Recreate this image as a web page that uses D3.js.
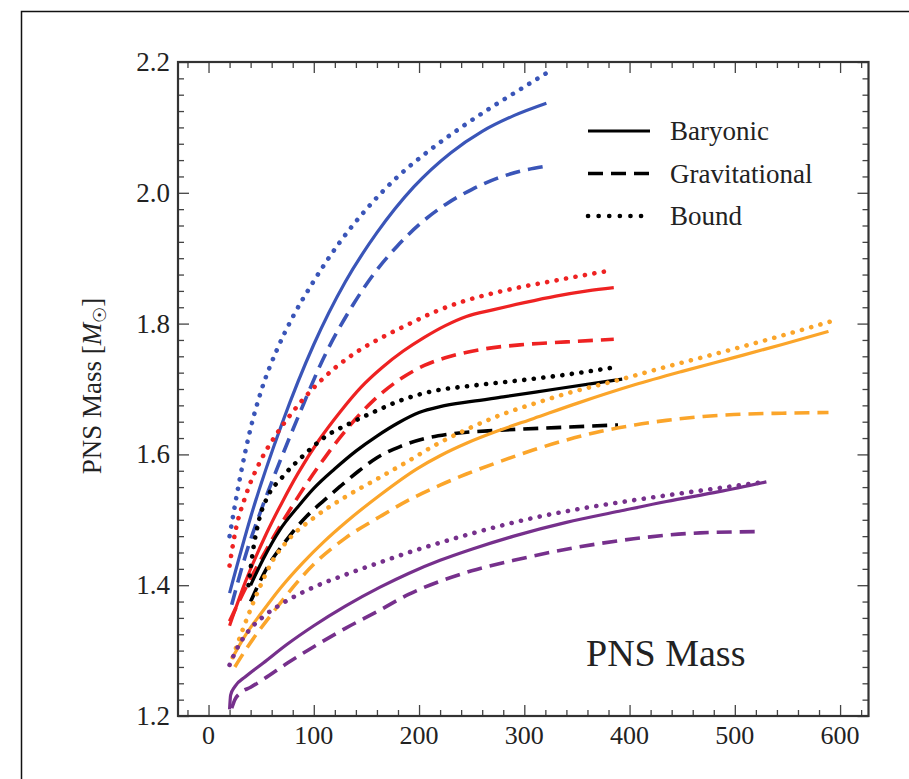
<!DOCTYPE html>
<html>
<head>
<meta charset="utf-8">
<script src="https://cdn.jsdelivr.net/npm/d3@7"></script>
<style>
  body { margin: 0; background: #fff; }
  svg text { font-family: "Liberation Serif", "DejaVu Serif", serif; fill: #222; }
</style>
</head>
<body>
<div id="chart-area"></div>
<script>
// values: [x, mass]
var blueSolid = [[20,1.388],[40,1.504],[70,1.648],[100,1.768],[130,1.864],[160,1.939],[195,2.009],[230,2.061],[260,2.094],[290,2.118],[321,2.137]];
var blueDashed = [[22,1.37],[36,1.45],[50,1.515],[70,1.598],[90,1.676],[106,1.736],[137,1.828],[158,1.878],[179,1.918],[202,1.954],[226,1.983],[250,2.005],[274,2.022],[296,2.033],[318,2.04]];
var blueDotted = [[20,1.475],[30,1.565],[40,1.64],[50,1.697],[65,1.76],[80,1.81],[100,1.865],[125,1.925],[150,1.975],[180,2.025],[210,2.065],[240,2.10],[270,2.132],[300,2.162],[321,2.183]];

var redSolid = [[20,1.338],[35,1.405],[55,1.479],[70,1.527],[85,1.571],[105,1.622],[125,1.665],[145,1.703],[165,1.733],[185,1.758],[205,1.779],[225,1.797],[245,1.811],[270,1.821],[300,1.832],[330,1.842],[360,1.85],[385,1.855]];
var redDashed = [[20,1.345],[36,1.398],[58,1.463],[87,1.54],[110,1.594],[130,1.636],[157,1.683],[182,1.715],[205,1.736],[230,1.75],[261,1.761],[300,1.768],[340,1.772],[385,1.776]];
var redDotted = [[20,1.43],[25,1.478],[36,1.54],[50,1.592],[65,1.632],[80,1.665],[100,1.702],[120,1.732],[144,1.76],[165,1.779],[190,1.799],[215,1.818],[240,1.833],[277,1.849],[330,1.866],[381,1.881]];

var blackSolid = [[40,1.40],[52,1.44],[68,1.485],[85,1.52],[100,1.548],[120,1.578],[140,1.605],[160,1.628],[180,1.648],[200,1.664],[220,1.673],[250,1.681],[280,1.688],[330,1.70],[393,1.715]];
var blackDashed = [[40,1.375],[55,1.425],[74,1.469],[93,1.505],[110,1.53],[125,1.551],[143,1.575],[160,1.595],[182,1.612],[205,1.624],[229,1.631],[277,1.637],[330,1.641],[389,1.645]];
var blackDotted = [[38,1.40],[42,1.45],[48,1.50],[56,1.535],[70,1.565],[90,1.598],[110,1.626],[135,1.648],[160,1.667],[185,1.684],[214,1.697],[250,1.705],[300,1.714],[340,1.722],[385,1.733]];

var orangeSolid = [[23,1.29],[36,1.326],[50,1.357],[68,1.395],[90,1.435],[110,1.467],[131,1.497],[163,1.538],[198,1.578],[220,1.598],[245,1.617],[275,1.636],[309,1.655],[350,1.678],[404,1.706],[450,1.727],[499,1.748],[545,1.768],[589,1.788]];
var orangeDashed = [[25,1.275],[36,1.303],[62,1.36],[100,1.432],[130,1.472],[163,1.505],[190,1.53],[220,1.553],[245,1.57],[275,1.588],[309,1.607],[340,1.622],[372,1.635],[405,1.645],[435,1.652],[470,1.658],[499,1.661],[545,1.663],[589,1.664]];
var orangeDotted = [[23,1.29],[36,1.347],[49,1.398],[60,1.435],[75,1.468],[100,1.503],[130,1.535],[163,1.565],[190,1.59],[214,1.613],[245,1.638],[277,1.66],[310,1.678],[340,1.693],[390,1.714],[435,1.734],[480,1.753],[530,1.775],[597,1.806]];

var purpleSolid = [[20,1.21],[21,1.232],[25,1.245],[35,1.26],[52,1.281],[75,1.31],[100,1.338],[130,1.368],[163,1.397],[190,1.418],[220,1.438],[250,1.455],[290,1.475],[340,1.496],[390,1.513],[435,1.528],[485,1.543],[530,1.558]];
var purpleDashed = [[22,1.212],[25,1.225],[30,1.235],[40,1.244],[52,1.256],[75,1.281],[100,1.306],[130,1.334],[163,1.362],[190,1.386],[220,1.406],[250,1.422],[290,1.438],[340,1.455],[404,1.471],[467,1.48],[526,1.482]];
var purpleDotted = [[20,1.278],[27,1.303],[38,1.33],[52,1.352],[70,1.372],[100,1.397],[130,1.416],[163,1.435],[190,1.45],[220,1.465],[250,1.479],[309,1.503],[350,1.516],[404,1.53],[460,1.543],[529,1.558]];

var xTicks = [0, 100, 200, 300, 400, 500, 600];
var yTicks = [1.2, 1.4, 1.6, 1.8, 2.0, 2.2];
var legendNames = ["Baryonic", "Gravitational", "Bound"];

var series = [
    {data: blueSolid, color: "#3a55b8", kind: "solid"},
    {data: blueDashed, color: "#3a55b8", kind: "dashed"},
    {data: blueDotted, color: "#3a55b8", kind: "dotted"},
    {data: redSolid, color: "#ee2222", kind: "solid"},
    {data: redDashed, color: "#ee2222", kind: "dashed"},
    {data: redDotted, color: "#ee2222", kind: "dotted"},
    {data: blackSolid, color: "#000", kind: "solid"},
    {data: blackDashed, color: "#000", kind: "dashed"},
    {data: blackDotted, color: "#000", kind: "dotted"},
    {data: orangeSolid, color: "#fba52a", kind: "solid"},
    {data: orangeDashed, color: "#fba52a", kind: "dashed"},
    {data: orangeDotted, color: "#fba52a", kind: "dotted"},
    {data: purpleSolid, color: "#76308c", kind: "solid"},
    {data: purpleDashed, color: "#76308c", kind: "dashed"},
    {data: purpleDotted, color: "#76308c", kind: "dotted"}
];

var styles = {
    solid: {w: 3.2, dash: null},
    dashed: {w: 3.6, dash: "15 8"},
    dotted: {w: 4.6, dash: "0.1 9.5"}
};

var W = 909, H = 779;
// plot box in pixels (not "top": that name is taken by window.top)
var pl = 178, pr = 868.5, pt = 62, pb = 716;

var svg = d3.select("#chart-area").append("svg")
    .attr("width", W)
    .attr("height", H);

// outer frame of the figure
svg.append("path")
    .attr("d", "M21.5," + H + "V11.5H" + W)
    .attr("fill", "none")
    .attr("stroke", "#111")
    .attr("stroke-width", 1.5);

var x = d3.scaleLinear().domain([-29, 627]).range([pl, pr]);
var y = d3.scaleLinear().domain([1.2, 2.2]).range([pb, pt]);

var g = svg.append("g");

var line = d3.line()
    .x((d) => x(d[0]))
    .y((d) => y(d[1]))
    .curve(d3.curveMonotoneX);

g.selectAll("path.curve")
    .data(series)
    .enter()
    .append("path")
        .attr("class", "curve")
        .attr("d", (d) => line(d.data))
        .attr("fill", "none")
        .attr("stroke", (d) => d.color)
        .attr("stroke-width", (d) => styles[d.kind].w)
        .attr("stroke-dasharray", (d) => styles[d.kind].dash)
        .attr("stroke-linecap", (d) => d.kind == "dotted" ? "round" : "butt");

// ticks on all four sides, pointing inward
var xMinor = d3.range(-20, 621, 20);
var yMinor = d3.range(1.2, 2.2001, 0.025);
function isMajorX(v) { return Math.abs(v % 100) < 1e-6; }
function isMajorY(v) { return Math.abs(Math.round(v * 5) - v * 5) < 1e-6; }

var tickColor = "#444";
g.append("g").attr("transform", "translate(0," + pb + ")")
    .call(d3.axisTop(x).tickValues(xMinor).tickSizeOuter(0).tickFormat(""))
    .call((a) => a.selectAll(".tick line").attr("y2", (d) => isMajorX(d) ? -11 : -6));
g.append("g").attr("transform", "translate(0," + pt + ")")
    .call(d3.axisBottom(x).tickValues(xMinor).tickSizeOuter(0).tickFormat(""))
    .call((a) => a.selectAll(".tick line").attr("y2", (d) => isMajorX(d) ? 11 : 6));
g.append("g").attr("transform", "translate(" + pl + ",0)")
    .call(d3.axisRight(y).tickValues(yMinor).tickSizeOuter(0).tickFormat(""))
    .call((a) => a.selectAll(".tick line").attr("x2", (d) => isMajorY(d) ? 11 : 6));
g.append("g").attr("transform", "translate(" + pr + ",0)")
    .call(d3.axisLeft(y).tickValues(yMinor).tickSizeOuter(0).tickFormat(""))
    .call((a) => a.selectAll(".tick line").attr("x2", (d) => isMajorY(d) ? -11 : -6));
g.selectAll(".domain").remove();
g.selectAll(".tick line").attr("stroke", tickColor).attr("stroke-width", 1.3);

g.append("rect")
    .attr("x", pl).attr("y", pt)
    .attr("width", pr - pl).attr("height", pb - pt)
    .attr("fill", "none")
    .attr("stroke", "#333")
    .attr("stroke-width", 2.2);

// tick labels
svg.selectAll("text.xl")
    .data(xTicks)
    .enter()
    .append("text")
        .attr("class", "xl")
        .attr("x", (d) => x(d))
        .attr("y", 744)
        .attr("text-anchor", "middle")
        .attr("font-size", 26)
        .text((d) => d);

svg.selectAll("text.yl")
    .data(yTicks)
    .enter()
    .append("text")
        .attr("class", "yl")
        .attr("x", 170)
        .attr("y", (d) => y(d) + 9)
        .attr("text-anchor", "end")
        .attr("font-size", 27)
        .text((d) => d.toFixed(1));

// y axis title
var yt = svg.append("text")
    .attr("transform", "translate(101," + 386 + ") rotate(-90)")
    .attr("text-anchor", "middle")
    .attr("font-size", 27);
yt.append("tspan").text("PNS Mass [");
yt.append("tspan").attr("font-style", "italic").text("M");
yt.append("tspan").attr("font-size", 18).attr("dy", 5).text("\u2609");
yt.append("tspan").attr("dy", -5).text("]");

// label inside the plot
svg.append("text")
    .attr("x", 586)
    .attr("y", 666)
    .attr("font-size", 38)
    .text("PNS Mass");

// legend
var legend = svg.selectAll("g.leg")
    .data(legendNames)
    .enter()
    .append("g")
        .attr("class", "leg")
        .attr("transform", (d, i) => "translate(588," + (131 + i * 42.5) + ")");

legend.append("line")
    .attr("x1", 0).attr("x2", 62)
    .attr("stroke", "#000")
    .attr("stroke-width", (d, i) => [3.2, 3.6, 4.6][i])
    .attr("stroke-dasharray", (d, i) => [null, "15 8", "0.1 10.5"][i])
    .attr("stroke-linecap", (d, i) => i == 2 ? "round" : "butt");

legend.append("text")
    .attr("x", 82)
    .attr("y", 9)
    .attr("font-size", 27)
    .text((d) => d);
</script>
</body>
</html>
